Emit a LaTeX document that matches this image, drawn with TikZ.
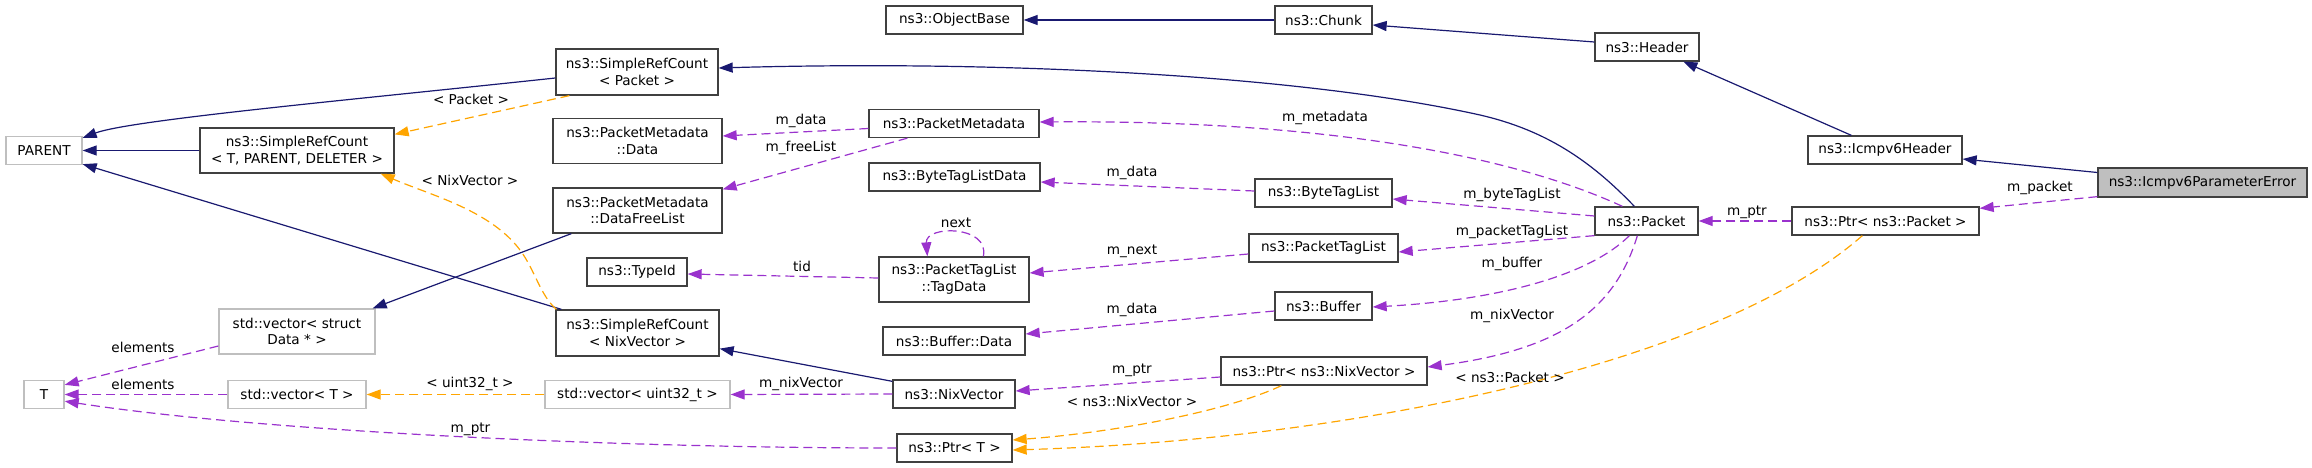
\documentclass[tikz,border=0pt]{standalone}
\usepackage{fontspec}
\setmainfont{DejaVu Sans}
\usetikzlibrary{arrows.meta,calc}
\definecolor{inh}{HTML}{191970}
\definecolor{usec}{HTML}{9A32CD}
\definecolor{tpl}{HTML}{FFA500}
\definecolor{bord}{HTML}{404040}
\definecolor{undoc}{HTML}{BFBFBF}
\begin{document}
\begin{tikzpicture}[x=1pt,y=-1pt,
  every node/.style={font=\fontsize{13.6}{16.8}\selectfont},
  box/.style={draw=bord, fill=white, line width=1.3pt, inner sep=0pt, align=center},
  gbox/.style={box, draw=undoc},
  hbox/.style={box, fill=undoc},
  tipst/.style={-{Triangle[length=14pt,width=10pt]}},
  inhe/.style={draw=inh, line width=1.2pt, tipst},
  usee/.style={draw=usec, line width=1.2pt, dash pattern=on 9pt off 5pt, tipst},
  tple/.style={draw=tpl, line width=1.2pt, dash pattern=on 9pt off 5pt, tipst},
  lbl/.style={inner sep=0pt}]
\useasboundingbox (0,0) rectangle (2312,468);

% nodes
\node[gbox, minimum width=76pt, minimum height=28pt] (parent) at (44,150.5) {PARENT};
\node[box, minimum width=194pt, minimum height=45pt] (srcT) at (297,150.5) {ns3::SimpleRefCount\\< T, PARENT, DELETER >};
\node[box, minimum width=162pt, minimum height=46pt] (srcP) at (637,72) {ns3::SimpleRefCount\\< Packet >};
\node[box, minimum width=169pt, minimum height=45pt] (pmd) at (637.5,141) {ns3::PacketMetadata\\::Data};
\node[box, minimum width=169pt, minimum height=45pt] (pmdfl) at (637.5,210.5) {ns3::PacketMetadata\\::DataFreeList};
\node[box, minimum width=100pt, minimum height=28pt] (typeid) at (637,272) {ns3::TypeId};
\node[box, minimum width=163pt, minimum height=46pt] (srcN) at (637.5,333) {ns3::SimpleRefCount\\< NixVector >};
\node[gbox, minimum width=156pt, minimum height=45pt] (svd) at (297,331.5) {std::vector< struct\\Data * >};
\node[gbox, minimum width=40pt, minimum height=28pt] (T) at (44,394.5) {T};
\node[gbox, minimum width=138pt, minimum height=28pt] (vecT) at (297,394.5) {std::vector< T >};
\node[gbox, minimum width=185pt, minimum height=28pt] (vecU) at (637.5,394.5) {std::vector< uint32\_t >};
\node[box, minimum width=137pt, minimum height=28pt] (objb) at (954.5,20) {ns3::ObjectBase};
\node[box, minimum width=97pt, minimum height=28pt] (chunk) at (1323.5,20) {ns3::Chunk};
\node[box, minimum width=170pt, minimum height=28pt] (pm) at (954,123.5) {ns3::PacketMetadata};
\node[box, minimum width=171pt, minimum height=28pt] (btld) at (954.5,177) {ns3::ByteTagListData};
\node[box, minimum width=137pt, minimum height=28pt] (btl) at (1323.5,193) {ns3::ByteTagList};
\node[box, minimum width=149pt, minimum height=28pt] (ptl) at (1323.5,248) {ns3::PacketTagList};
\node[box, minimum width=150pt, minimum height=45pt] (tagd) at (954,279.5) {ns3::PacketTagList\\::TagData};
\node[box, minimum width=97pt, minimum height=28pt] (buf) at (1323.5,306) {ns3::Buffer};
\node[box, minimum width=142pt, minimum height=28pt] (bufd) at (954,341) {ns3::Buffer::Data};
\node[box, minimum width=206pt, minimum height=28pt] (ptrN) at (1324,371) {ns3::Ptr< ns3::NixVector >};
\node[box, minimum width=122pt, minimum height=28pt] (nix) at (954,394) {ns3::NixVector};
\node[box, minimum width=115pt, minimum height=28pt] (ptrT) at (954.5,448) {ns3::Ptr< T >};
\node[box, minimum width=104pt, minimum height=28pt] (header) at (1647,47) {ns3::Header};
\node[box, minimum width=154pt, minimum height=28pt] (icmp) at (1885,150) {ns3::Icmpv6Header};
\node[hbox, minimum width=209pt, minimum height=29pt] (icmppe) at (2202.5,182.5) {ns3::Icmpv6ParameterError};
\node[box, minimum width=103pt, minimum height=28pt] (packet) at (1646.5,221) {ns3::Packet};
\node[box, minimum width=187pt, minimum height=28pt] (ptrP) at (1885.5,221) {ns3::Ptr< ns3::Packet >};

% inheritance
\draw[inhe] ($(srcP.west)+(0,6)$) .. controls (350,100) and (130,120) .. ($(parent.north east)+(0,2)$);
\draw[inhe] (srcT.west) -- (parent.east);
\draw[inhe] ($(srcN.north west)+(6,0)$) -- ($(parent.south east)+(0,-1)$);
\draw[inhe] ($(packet.north west)+(40,0)$) .. controls (1590,160) and (1545,130) .. (1480,115) .. controls (1300,75) and (1000,60) .. ($(srcP.east)+(0,-4)$);
\draw[inhe] (chunk.west) -- (objb.east);
\draw[inhe] ($(header.west)+(0,-5)$) -- ($(chunk.east)+(0,5)$);
\draw[inhe] ($(icmp.north west)+(44,0)$) -- ($(header.south west)+(89,0)$);
\draw[inhe] ($(icmppe.west)+(0,-10)$) -- ($(icmp.east)+(0,9)$);
\draw[inhe] ($(nix.north west)+(0,2)$) -- ($(srcN.south east)+(0,-8)$);
\draw[inhe] ($(pmdfl.south west)+(19,0)$) -- ($(svd.north east)+(-3,0)$);

% usage
\draw[usee] ($(icmppe.south west)+(0,-1)$) -- ($(ptrP.north east)+(0,2)$);
\draw[usee] (ptrP.west) -- (packet.east);
\draw[usee] ($(packet.north west)+(28,0)$) .. controls (1500,150) and (1300,120) .. ($(pm.east)+(0,-1.5)$);
\draw[usee] ($(packet.west)+(0,-5)$) -- ($(btl.east)+(0,6)$);
\draw[usee] (packet.south west) -- ($(ptl.east)+(0,4)$);
\draw[usee] ($(packet.south west)+(35,0)$) .. controls (1590,275) and (1500,300) .. ($(buf.east)+(0,1)$);
\draw[usee] ($(packet.south west)+(43,0)$) .. controls (1615,310) and (1560,350) .. ($(ptrN.east)+(0,-4)$);
\draw[usee] ($(ptrN.west)+(0,6)$) -- ($(nix.east)+(0,-3)$);
\draw[usee] (nix.west) -- (vecU.east);
\draw[usee] (vecT.west) -- (T.east);
\draw[usee] ($(svd.west)+(0,14.5)$) -- ($(T.north east)+(0,5)$);
\draw[usee] (ptrT.west) .. controls (600,448) and (250,430) .. ($(T.south east)+(0,-8)$);
\draw[usee] ($(pm.west)+(0,5)$) -- ($(pmd.east)+(0,-5)$);
\draw[usee] ($(pm.south west)+(39,0)$) -- ($(pmdfl.north east)+(0,2)$);
\draw[usee] ($(btl.west)+(0,-2)$) -- ($(btld.east)+(0,5)$);
\draw[usee] ($(tagd.west)+(0,-1.5)$) -- ($(typeid.east)+(0,2)$);
\draw[usee] ($(tagd.north west)+(105,0)$) .. controls (990,225) and (925,225) .. ($(tagd.north west)+(49,0)$);
\draw[usee] ($(ptl.west)+(0,6)$) -- ($(tagd.east)+(0,-6.5)$);
\draw[usee] ($(buf.west)+(0,5)$) -- ($(bufd.east)+(0,-7)$);

% template
\draw[tple] ($(ptrP.south west)+(71,0)$) .. controls (1715,365) and (1350,440) .. ($(ptrT.east)+(0,2)$);
\draw[tple] ($(ptrN.south west)+(61,0)$) .. controls (1230,410) and (1120,432) .. ($(ptrT.east)+(0,-8)$);
\draw[tple] (vecU.west) -- (vecT.east);
\draw[tple] ($(srcP.south west)+(14,0)$) -- ($(srcT.north east)+(0,7)$);
\draw[tple] ($(srcN.north west)+(1,0)$) .. controls (540,295) and (535,270) .. (520,250) .. controls (490,210) and (430,195) .. ($(srcT.south east)+(-14,0)$);

% labels
\node[lbl] (l1) at (2040,188) {m\_packet};
\node[lbl] (l2) at (1747,212) {m\_ptr};
\node[lbl] (l3) at (1325,118) {m\_metadata};
\node[lbl] (l4) at (1512,195) {m\_byteTagList};
\node[lbl] (l5) at (1512,232) {m\_packetTagList};
\node[lbl] (l6) at (1512,264) {m\_buffer};
\node[lbl] (l7) at (1512,316) {m\_nixVector};
\node[lbl] (l8) at (1510,377) {< ns3::Packet >};
\node[lbl] (l9) at (1132,401) {< ns3::NixVector >};
\node[lbl] (l10) at (1132,370) {m\_ptr};
\node[lbl] (l11) at (1132,310) {m\_data};
\node[lbl] (l12) at (1132,251) {m\_next};
\node[lbl] (l13) at (1132,173) {m\_data};
\node[lbl] (l14) at (956,223) {next};
\node[lbl] (l15) at (802,266) {tid};
\node[lbl] (l16) at (801,121) {m\_data};
\node[lbl] (l17) at (801,148) {m\_freeList};
\node[lbl] (l18) at (801,384) {m\_nixVector};
\node[lbl] (l19) at (470,384) {< uint32\_t >};
\node[lbl] (l20) at (470.5,429) {m\_ptr};
\node[lbl] (l21) at (143,384) {elements};
\node[lbl] (l22) at (143,347) {elements};
\node[lbl] (l23) at (471,99) {< Packet >};
\node[lbl] (l24) at (470,180) {< NixVector >};
\end{tikzpicture}
\end{document}
